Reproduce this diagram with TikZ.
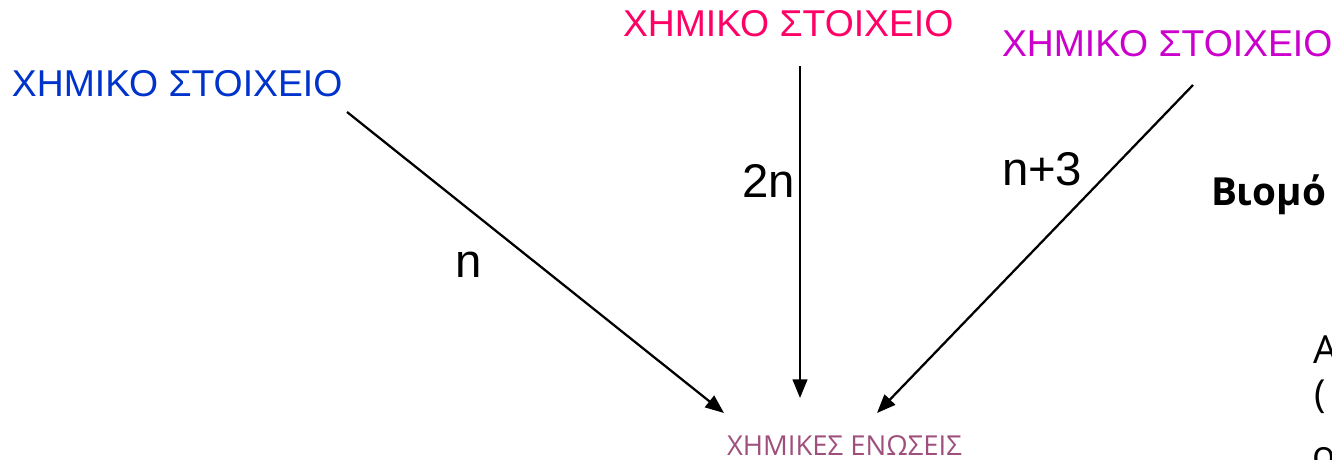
\documentclass[tikz,border=0pt]{standalone}
\usepackage{fontspec}
\setmainfont{Liberation Sans}
\newfontfamily\osans{Open Sans}
\usetikzlibrary{arrows.meta}
\definecolor{cblue}{HTML}{0033CC}
\definecolor{cpink}{HTML}{FF0066}
\definecolor{cmag}{HTML}{CC00CC}
\definecolor{cmauve}{HTML}{9E4F7C}
\begin{document}
\begin{tikzpicture}[x=0.75pt,y=-0.75pt,
  txt/.style={anchor=base west,inner sep=0pt,outer sep=0pt},
  elem/.style={txt,font=\fontsize{28}{32}\selectfont},
  lbl/.style={txt,font=\fontsize{35.5}{40}\selectfont},
  side/.style={txt,font=\osans\fontsize{29}{34}\selectfont},
  conn/.style={line width=1.7pt,-{Triangle[length=14pt,width=11pt]}}]
\useasboundingbox (0,0) rectangle (1332,460);
\clip (0,0) rectangle (1332,460);
\node[elem,text=cblue] (e1) at (12,97) {ΧΗΜΙΚΟ ΣΤΟΙΧΕΙΟ};
\node[elem,text=cpink] (e2) at (623,37) {ΧΗΜΙΚΟ ΣΤΟΙΧΕΙΟ};
\node[elem,text=cmag] (e3) at (1002,57) {ΧΗΜΙΚΟ ΣΤΟΙΧΕΙΟ};
\node[txt,text=cmauve,font=\osans\fontsize{20.6}{24}\selectfont] (ch) at (727,455) {ΧΗΜΙΚΕΣ ΕΝΩΣΕΙΣ};
\coordinate (s1) at (347,112);
\coordinate (s2) at (800,66);
\coordinate (s3) at (1193,85);
\coordinate (t1) at (724,413);
\coordinate (t2) at (800,398);
\coordinate (t3) at (877,413);
\draw[conn] (s1) -- (t1);
\draw[conn] (s2) -- (t2);
\draw[conn] (s3) -- (t3);
\node[lbl] (l1) at (455,277) {n};
\node[lbl] (l2) at (742,197) {2n};
\node[lbl] (l3) at (1002,185) {n+3};
\node[side,font=\osans\bfseries\fontsize{29}{34}\selectfont] (b) at (1211,205) {Βιομό};
\node[side] (a1) at (1313,363) {Α};
\node[side] (a2) at (1314,407) {(};
\node[side] (a3) at (1312,468) {ο};
\end{tikzpicture}
\end{document}
